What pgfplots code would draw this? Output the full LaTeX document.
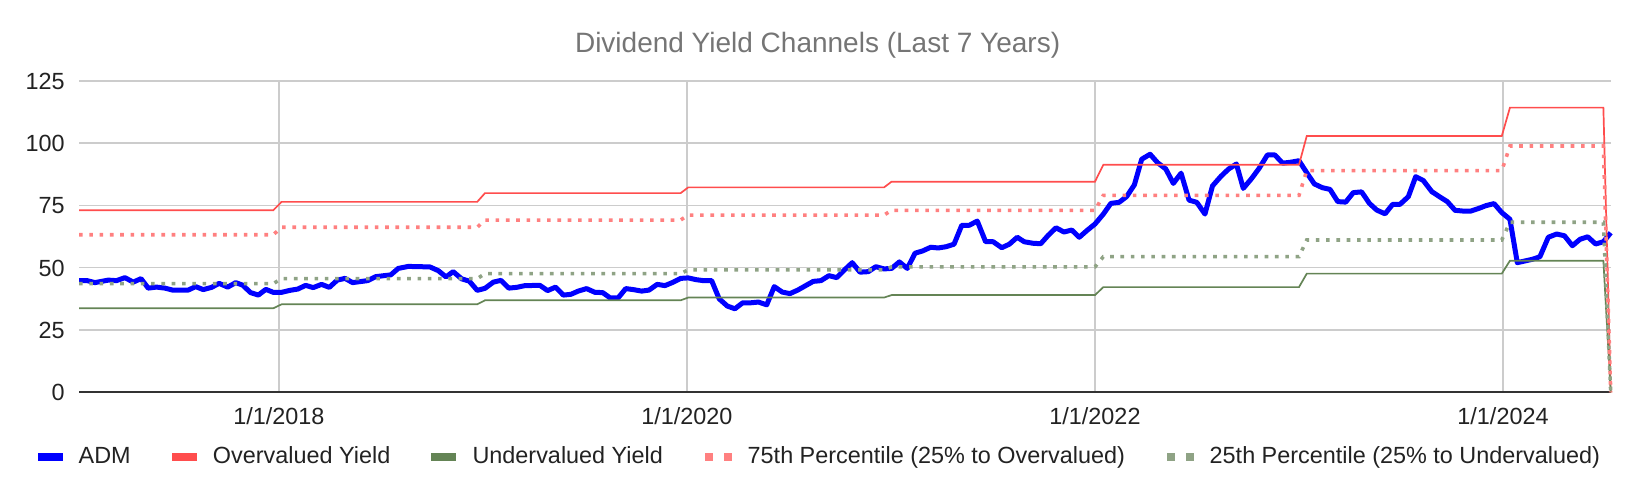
\documentclass[border=0pt]{standalone}
\usepackage{fontspec}
\setmainfont{Liberation Sans}
\usepackage{pgfplots}
\pgfplotsset{compat=1.18}
\definecolor{admblue}{RGB}{0,0,255}
\definecolor{overred}{RGB}{255,77,77}
\definecolor{undergreen}{RGB}{100,132,85}
\definecolor{pinkdot}{RGB}{255,128,128}
\definecolor{greendot}{RGB}{143,163,133}
\definecolor{gridgray}{RGB}{204,204,204}
\definecolor{titlegray}{RGB}{117,117,117}
\definecolor{txt}{RGB}{34,34,34}
\begin{document}
\begin{tikzpicture}
\useasboundingbox (0,0) rectangle (818pt,247pt);
\begin{axis}[
  at={(39.5pt,50.85pt)}, anchor=south west,
  scale only axis, width=765.85pt, height=155.8pt,
  xmin=2017.020, xmax=2024.528, ymin=0, ymax=125,
  xtick={2018,2020,2022,2024},
  xticklabels={1/1/2018,1/1/2020,1/1/2022,1/1/2024},
  ytick={0,25,50,75,100,125},
  xmajorgrids, ymajorgrids,
  grid style={gridgray, line width=0.8pt},
  major tick length=0pt,
  axis x line*=bottom, axis y line*=left,
  x axis line style={draw=black!80, line width=1pt, -},
  y axis line style={draw=none},
  /pgf/number format/assume math mode=true,
  tick label style={font=\fontsize{11.7}{14}\selectfont, text=txt},
  yticklabel style={anchor=base east, inner sep=0pt, xshift=-7pt, yshift=-4.2pt},
  xticklabel style={anchor=base, inner sep=0pt, yshift=-15.9pt},
  clip=false,
  legend columns=5,
  legend cell align=left,
  legend style={at={(0.4743,-0.2067)}, anchor=center, draw=none, fill=none,
    inner sep=0pt, outer sep=0pt, column sep=8.1pt,
    font=\fontsize{11.7}{14}\selectfont, text=txt,
    nodes={inner sep=0pt}},
]
\addplot[admblue, line width=2.5pt, line join=round,
  legend image code/.code={\path (-12pt,0pt); \path[fill=admblue, draw=none, solid] (0pt,-2pt) rectangle (12.5pt,2pt);}]
coordinates {
(2017.020,44.8) (2017.060,44.8) (2017.098,44.0) (2017.163,45.0) (2017.204,44.8)
(2017.245,46.0) (2017.286,44.2) (2017.324,45.6) (2017.359,41.8) (2017.400,42.2)
(2017.441,41.8) (2017.479,41.0) (2017.555,41.0) (2017.592,42.4) (2017.629,41.2)
(2017.670,42.1) (2017.707,43.7) (2017.749,42.2) (2017.788,44.0) (2017.822,43.0)
(2017.861,40.0) (2017.899,39.0) (2017.936,41.3) (2017.972,40.1) (2018.013,40.1)
(2018.054,40.9) (2018.092,41.4) (2018.131,42.9) (2018.168,42.0) (2018.209,43.3)
(2018.247,42.1) (2018.286,45.0) (2018.324,45.7) (2018.361,44.0) (2018.397,44.4)
(2018.435,44.8) (2018.474,46.4) (2018.548,47.1) (2018.585,49.7) (2018.634,50.5)
(2018.740,50.3) (2018.781,48.8) (2018.819,46.3) (2018.854,48.4) (2018.896,45.5)
(2018.933,44.6) (2018.972,40.9) (2019.010,41.7) (2019.051,44.2) (2019.088,44.9)
(2019.127,41.8) (2019.165,42.1) (2019.206,42.8) (2019.279,42.9) (2019.317,40.8)
(2019.356,42.2) (2019.394,39.0) (2019.431,39.3) (2019.467,40.6) (2019.508,41.6)
(2019.549,40.1) (2019.587,40.0) (2019.623,37.9) (2019.663,37.9) (2019.700,41.6)
(2019.737,41.2) (2019.778,40.6) (2019.814,41.0) (2019.854,43.3) (2019.892,42.8)
(2019.928,44.0) (2019.969,45.7) (2020.006,45.9) (2020.044,45.2) (2020.080,44.8)
(2020.121,44.8) (2020.158,37.5) (2020.198,34.6) (2020.235,33.5) (2020.273,35.9)
(2020.312,35.9) (2020.350,36.2) (2020.391,35.1) (2020.428,42.4) (2020.467,40.2)
(2020.505,39.6) (2020.543,41.0) (2020.582,42.8) (2020.619,44.5) (2020.657,44.8)
(2020.696,46.8) (2020.734,46.0) (2020.771,49.0) (2020.810,52.0) (2020.848,48.2)
(2020.889,48.4) (2020.926,50.4) (2020.966,49.5) (2021.003,49.7) (2021.041,52.3)
(2021.080,49.7) (2021.118,55.8) (2021.155,56.7) (2021.195,58.2) (2021.232,57.9)
(2021.270,58.4) (2021.309,59.4) (2021.347,67.0) (2021.384,67.0) (2021.423,68.7)
(2021.464,60.4) (2021.501,60.4) (2021.543,58.0) (2021.580,59.4) (2021.619,62.2)
(2021.653,60.4) (2021.695,59.8) (2021.734,59.6) (2021.771,63.0) (2021.809,66.0)
(2021.848,64.3) (2021.886,65.1) (2021.923,62.2) (2021.962,65.0) (2022.000,67.5)
(2022.041,71.5) (2022.078,75.8) (2022.118,76.2) (2022.155,78.5) (2022.193,83.2)
(2022.229,93.5) (2022.270,95.5) (2022.307,92.1) (2022.347,89.6) (2022.384,83.8)
(2022.422,87.9) (2022.461,77.1) (2022.499,76.2) (2022.539,71.5) (2022.576,82.8)
(2022.618,86.7) (2022.654,89.5) (2022.693,91.6) (2022.727,81.8) (2022.768,85.8)
(2022.805,89.9) (2022.845,95.2) (2022.882,95.2) (2022.920,91.9) (2022.959,92.3)
(2023.000,92.9) (2023.038,88.1) (2023.075,83.6) (2023.114,82.1) (2023.152,81.4)
(2023.190,76.5) (2023.229,76.3) (2023.266,80.1) (2023.307,80.4) (2023.345,75.8)
(2023.381,73.1) (2023.422,71.6) (2023.459,75.4) (2023.495,75.4) (2023.536,78.5)
(2023.572,86.5) (2023.609,85.0) (2023.651,80.5) (2023.688,78.5) (2023.727,76.5)
(2023.765,73.0) (2023.805,72.7) (2023.842,72.7) (2023.879,73.7) (2023.917,74.9)
(2023.956,75.7) (2023.994,72.1) (2024.034,69.4) (2024.070,52.0) (2024.108,52.7)
(2024.146,53.4) (2024.181,54.4) (2024.222,62.2) (2024.263,63.5) (2024.301,62.8)
(2024.340,58.8) (2024.378,61.4) (2024.415,62.4) (2024.454,59.5) (2024.492,60.4)
(2024.528,64.0)
};
\addlegendentry{ADM}
\addplot[overred, line width=0.85pt,
  legend image code/.code={\path (-12pt,0pt); \path[fill=overred, draw=none, solid] (0pt,-2pt) rectangle (12.5pt,2pt);}]
coordinates {
(2017.020,73.0) (2017.972,73.0) (2018.013,76.4) (2018.972,76.4) (2019.010,79.9)
(2019.969,79.9) (2020.006,82.2) (2020.966,82.2) (2021.003,84.5) (2022.000,84.5)
(2022.041,91.3) (2023.000,91.3) (2023.038,102.8) (2023.994,102.8) (2024.034,114.2)
(2024.492,114.2) (2024.528,0)
};
\addlegendentry{Overvalued Yield}
\addplot[undergreen, line width=0.85pt,
  legend image code/.code={\path (-12pt,0pt); \path[fill=undergreen, draw=none, solid] (0pt,-2pt) rectangle (12.5pt,2pt);}]
coordinates {
(2017.020,33.7) (2017.972,33.7) (2018.013,35.3) (2018.972,35.3) (2019.010,36.9)
(2019.969,36.9) (2020.006,38.0) (2020.966,38.0) (2021.003,39.0) (2022.000,39.0)
(2022.041,42.2) (2023.000,42.2) (2023.038,47.6) (2023.994,47.6) (2024.034,52.8)
(2024.492,52.8) (2024.528,0)
};
\addlegendentry{Undervalued Yield}
\addplot[pinkdot, line width=1.8pt, dash pattern=on 1.8pt off 3.35pt,
  legend image code/.code={\path (-12pt,0pt); \path[fill=pinkdot, draw=none, solid] (0pt,-1.95pt) rectangle (3.9pt,1.95pt); \path[fill=pinkdot, draw=none, solid] (9.4pt,-1.95pt) rectangle (13.3pt,1.95pt);}]
coordinates {
(2017.020,63.2) (2017.972,63.2) (2018.013,66.2) (2018.972,66.2) (2019.010,69.1)
(2019.969,69.1) (2020.006,71.1) (2020.966,71.1) (2021.003,73.0) (2022.000,73.0)
(2022.041,79.0) (2023.000,79.0) (2023.038,88.9) (2023.994,88.9) (2024.034,98.8)
(2024.492,98.8) (2024.528,0)
};
\addlegendentry{75th Percentile (25\% to Overvalued)}
\addplot[greendot, line width=1.8pt, dash pattern=on 1.8pt off 3.35pt,
  legend image code/.code={\path (-12pt,0pt); \path[fill=greendot, draw=none, solid] (0pt,-1.95pt) rectangle (3.9pt,1.95pt); \path[fill=greendot, draw=none, solid] (9.4pt,-1.95pt) rectangle (13.3pt,1.95pt);}]
coordinates {
(2017.020,43.6) (2017.972,43.6) (2018.013,45.6) (2018.972,45.6) (2019.010,47.6)
(2019.969,47.6) (2020.006,49.1) (2020.966,49.1) (2021.003,50.3) (2022.000,50.3)
(2022.041,54.4) (2023.000,54.4) (2023.038,61.1) (2023.994,61.1) (2024.034,68.2)
(2024.492,68.2) (2024.528,0)
};
\addlegendentry{25th Percentile (25\% to Undervalued)}
\end{axis}
\node[anchor=base, text=titlegray, font=\fontsize{14}{17}\selectfont, inner sep=0pt] at (408.8pt,221pt) {Dividend Yield Channels (Last 7 Years)};
\end{tikzpicture}
\end{document}
